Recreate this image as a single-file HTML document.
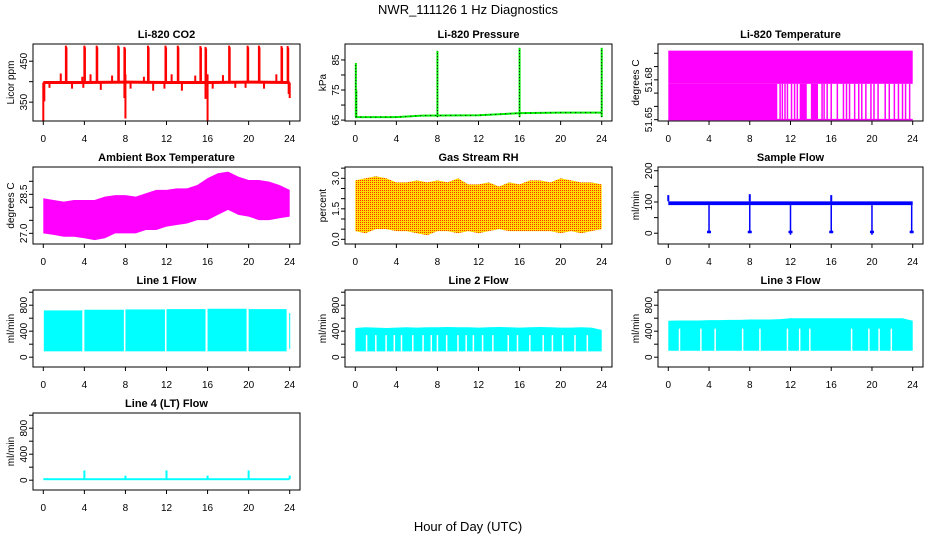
<!DOCTYPE html>
<html><head><meta charset="utf-8"><style>
html,body{margin:0;padding:0;background:#fff;}
svg{display:block;font-family:"Liberation Sans",Arial,sans-serif;}
</style></head><body>
<svg id="chart" width="936" height="540" viewBox="0 0 936 540">
<defs>
<pattern id="rhpat" width="2" height="2" patternUnits="userSpaceOnUse">
<rect width="2" height="2" fill="#ffdd00"/><rect width="1" height="1" fill="#ff3000"/>
</pattern>
</defs>
<text x="468" y="14" text-anchor="middle" font-size="13">NWR_111126  1 Hz Diagnostics</text>
<text x="468" y="531" text-anchor="middle" font-size="13">Hour of Day (UTC)</text>
</svg>
<script>
// ---- data ----
const xTicks=[0,4,8,12,16,20,24];
const co2Base=[398,398,399,398,398,399,398];
const co2BaseHours=[0,4,8,12,16,20,24];
const co2UpHours=[2.2,4.0,5.2,7.3,7.9,10.2,11.9,13.1,15.3,15.8,18.1,19.9,21.0,23.2,23.8];
const co2UpVals=[488,488,488,488,485,488,488,488,487,485,488,488,488,487,487];
const co2SmallHours=[1.7,3.8,4.6,6.7,8.0,9.8,12.5,14.8,16.0,17.5,22.7];
const co2SmallVals=[420,412,418,415,418,412,418,415,418,416,418];
const co2DownHours=[0.0,0.1,0.6,2.8,3.9,5.6,7.9,8.0,8.5,10.7,11.8,13.5,15.8,16.0,16.5,18.7,19.7,21.5,23.9,24.0];
const co2DownVals=[305,352,385,383,385,380,360,310,383,378,383,378,358,305,383,385,385,383,370,360];

const presBaseHours=[0,4,6.5,12,16,20,24];
const presBaseVals=[66,66,66.5,66.6,67.3,67.5,67.5];
const presSpikeHours=[0.05,0.1,8.0,16.0,24.0];
const presSpikeVals=[84,75,88,89,89];

const tempLevels=[51.65,51.677,51.702];
const tempSolidStart=[0,12.9,14.0];
const tempSolidEnd=[10.7,13.6,14.7];
const tempLines=[10.98,11.2,11.46,11.7,12.1,12.4,12.67,15.1,15.3,15.6,16.0,16.6,17.2,17.5,17.8,18.3,18.7,19.0,19.4,19.9,20.2,20.6,21.3,21.7,22.2,22.6,23.0,23.3,23.7];

const hourly=[0,1,2,3,4,5,6,7,8,9,10,11,12,13,14,15,16,17,18,19,20,21,22,23,24];
const ambMax=[28.35,28.28,28.22,28.28,28.28,28.28,28.41,28.47,28.47,28.41,28.54,28.67,28.67,28.73,28.73,28.86,29.12,29.31,29.37,29.18,29.05,29.05,28.99,28.86,28.67];
const ambMin=[27.0,26.94,26.87,26.87,26.81,26.74,26.81,27.0,27.0,27.0,27.13,27.13,27.26,27.32,27.38,27.51,27.51,27.71,27.9,27.71,27.64,27.51,27.51,27.58,27.64];

const rhMax=[2.9,3.0,3.1,3.0,2.8,2.8,2.9,2.8,2.9,2.8,3.0,2.7,2.7,2.8,2.6,2.8,2.7,2.9,2.9,2.8,3.0,2.9,2.8,2.8,2.7];
const rhMin=[0.4,0.3,0.5,0.5,0.4,0.4,0.3,0.2,0.4,0.4,0.3,0.4,0.3,0.4,0.5,0.4,0.4,0.4,0.4,0.4,0.3,0.4,0.3,0.4,0.5];

const sfBaseLow=90, sfBaseHigh=102;
const sfDownHours=[4,8,12,16,20,23.9];
const sfDownVals=[0,0,-5,0,-5,0];
const sfUpHours=[0,8,16];
const sfUpVals=[122,125,122];

const l1Start=[0.05,4.0,8.0,12.0,16.0,20.0,23.95];
const l1End=[3.8,7.85,11.85,15.8,19.8,23.7,24.05];
const l1Low=[90,90,90,90,90,90,130];
const l1High=[720,730,735,740,745,740,680];

const l2High=[450,460,455,450,455,460,455,460,460,465,460,460,455,460,465,460,455,460,465,460,455,455,460,455,420];
const l2Low=90;
const l2Gaps=[1.1,2.0,3.0,3.8,4.5,5.6,6.6,7.4,8.0,8.9,10.0,10.8,11.5,12.4,13.4,14.9,15.8,17.0,18.3,19.2,20.2,21.4,22.6];

const l3High=[560,565,565,565,570,570,575,575,580,580,580,585,600,600,600,600,600,600,600,600,600,600,600,600,560];
const l3Low=100;
const l3Gaps=[1.1,3.2,4.6,7.3,9.0,11.7,12.9,13.9,18.0,19.7,20.7,21.9];

const l4Base=15;
const l4SpikeHours=[4,8,12,16,20,24];
const l4SpikeVals=[150,70,150,70,150,70];

// ---- helpers ----
const NS='http://www.w3.org/2000/svg';
const svg=document.getElementById('chart');
function el(tag,attrs,parent){const e=document.createElementNS(NS,tag);for(const k in attrs)e.setAttribute(k,attrs[k]);(parent||svg).appendChild(e);return e;}
const colL=[33,345,658];
let clipId=0;
function panel(col,row,title,ylab,ymin,ymax,ticks,labels,name){
  const L=colL[col],R=L+(col==2?265:267),T=44+123*row,B=T+77;
  const g=el('g',{});
  
  
  const sx=h=>L+10.3+h*(R-L-20.6)/24;
  const sy=v=>B-(v-ymin)/(ymax-ymin)*77;
  const cid='clip'+(clipId++);
  const cp=el('clipPath',{id:cid},g);el('rect',{x:L,y:T,width:R-L,height:B-T},cp);
  const data=el('g',{'clip-path':'url(#'+cid+')'},g);
  
  
  const t=el('text',{x:(L+R)/2,y:T-6,'text-anchor':'middle','font-size':11,'font-weight':'bold'},g);
  t.textContent=title;
  
  
  xTicks.forEach(h=>{
    el('line',{x1:sx(h),x2:sx(h),y1:B,y2:B+4,stroke:'#000'},g);
    const tx=el('text',{x:sx(h),y:B+21,'text-anchor':'middle','font-size':10},g);
    tx.textContent=h;
    
    
  });
  ticks.forEach((v,i)=>{
    el('line',{x1:L-4,x2:L,y1:sy(v),y2:sy(v),stroke:'#000'},g);
    if(labels[i]){
      const ty=el('text',{x:L-6,y:sy(v),'text-anchor':'middle','font-size':10,transform:'rotate(-90 '+(L-6)+' '+sy(v)+')'},g);
      ty.textContent=labels[i];
      
      
    }
  });
  const yl=el('text',{x:L-19,y:(T+B)/2,'text-anchor':'middle','font-size':10,transform:'rotate(-90 '+(L-19)+' '+((T+B)/2)+')'},g);
  yl.textContent=ylab;
  
  
  const box=el('rect',{x:L,y:T,width:R-L,height:B-T,fill:'none',stroke:'#000','stroke-width':1},g);
  
  
  return {sx,sy,g:data};
}
function vline(p,h,v1,v2,color,w){return el('line',{x1:p.sx(h),x2:p.sx(h),y1:p.sy(v1),y2:p.sy(v2),stroke:color,'stroke-width':w||1.5},p.g);}

// CO2
let p=panel(0,0,'Li-820 CO2','Licor ppm',304,492,[350,400,450],['350','','450'],'co2');
el('polyline',{points:co2BaseHours.map((h,i)=>p.sx(h)+','+p.sy(co2Base[i])).join(' '),fill:'none',stroke:'#ff0000','stroke-width':3},p.g);
co2UpHours.forEach((h,i)=>{vline(p,h,co2Base[0],co2UpVals[i],'#ff0000',2);vline(p,h+0.08,co2Base[0],co2UpVals[i]-4,'#ff0000',1.5);});
co2SmallHours.forEach((h,i)=>vline(p,h,co2Base[0],co2SmallVals[i],'#ff0000',2));
co2DownHours.forEach((h,i)=>vline(p,h,co2Base[0],co2DownVals[i],'#ff0000',2));

// Pressure
p=panel(1,0,'Li-820 Pressure','kPa',64.7,90.3,[65,70,75,80,85],['65','','75','','85'],'pressure');
el('polyline',{points:presBaseHours.map((h,i)=>p.sx(h)+','+p.sy(presBaseVals[i])).join(' '),fill:'none',stroke:'#00ee00','stroke-width':2},p.g);
el('polyline',{points:presBaseHours.map((h,i)=>p.sx(h)+','+p.sy(presBaseVals[i])).join(' '),fill:'none',stroke:'#000','stroke-width':1,'stroke-dasharray':'1 4'},p.g);
presSpikeHours.forEach((h,i)=>{vline(p,h,presBaseVals[0],presSpikeVals[i],'#00ee00',2);el('line',{x1:p.sx(h),x2:p.sx(h),y1:p.sy(66),y2:p.sy(presSpikeVals[i]),stroke:'#000','stroke-width':1,'stroke-dasharray':'1 2'},p.g);});

// Li-820 temperature
p=panel(2,0,'Li-820 Temperature','degrees C',51.649,51.707,[51.65,51.66,51.67,51.68,51.69,51.70],['51.65','','','51.68','',''],'li820-temp');
el('rect',{x:p.sx(0),y:p.sy(tempLevels[2]),width:p.sx(24)-p.sx(0),height:p.sy(tempLevels[1])-p.sy(tempLevels[2]),fill:'#ff00ff'},p.g);
tempSolidStart.forEach((s,i)=>el('rect',{x:p.sx(s),y:p.sy(tempLevels[1]),width:p.sx(tempSolidEnd[i])-p.sx(s),height:p.sy(tempLevels[0])-p.sy(tempLevels[1]),fill:'#ff00ff'},p.g));
tempLines.forEach(h=>vline(p,h,tempLevels[0],tempLevels[1],'#ff00ff',1.5));
el('line',{x1:p.sx(0),x2:p.sx(24),y1:p.sy(tempLevels[0]),y2:p.sy(tempLevels[0]),stroke:'#ff00ff','stroke-width':1.5},p.g);

// Ambient
p=panel(0,1,'Ambient Box Temperature','degrees C',26.59,29.55,[27.0,27.5,28.0,28.5,29.0],['27.0','','','28.5',''],'ambient-temp');
el('polygon',{points:hourly.map((h,i)=>p.sx(h)+','+p.sy(ambMax[i])).concat(hourly.slice().reverse().map(h=>p.sx(h)+','+p.sy(ambMin[h]))).join(' '),fill:'#ff00ff'},p.g);

// RH
p=panel(1,1,'Gas Stream RH','percent',-0.23,3.556,[0,0.5,1,1.5,2,2.5,3,3.5],['0.0','','','1.5','','','3.0',''],'gas-rh');
el('polygon',{points:hourly.map((h,i)=>p.sx(h)+','+p.sy(rhMax[i])).concat(hourly.slice().reverse().map(h=>p.sx(h)+','+p.sy(rhMin[h]))).join(' '),fill:'url(#rhpat)'},p.g);

// Sample flow
p=panel(2,1,'Sample Flow','ml/min',-34.5,212,[0,50,100,150,200],['0','','100','','200'],'sample-flow');
el('rect',{x:p.sx(0),y:p.sy(sfBaseHigh),width:p.sx(24)-p.sx(0),height:p.sy(sfBaseLow)-p.sy(sfBaseHigh),fill:'#0000ff'},p.g);
sfDownHours.forEach((h,i)=>{vline(p,h,sfBaseLow,sfDownVals[i],'#0000ff',1.5);el('rect',{x:p.sx(h)-2,y:p.sy(8),width:4,height:p.sy(0)-p.sy(8),fill:'#0000ff'},p.g);});
sfUpHours.forEach((h,i)=>vline(p,h,sfBaseHigh,sfUpVals[i],'#0000ff',2));

// Line 1
p=panel(0,2,'Line 1 Flow','ml/min',-151,1034,[0,200,400,600,800,1000],['0','','400','','800',''],'line1-flow');
l1Start.forEach((s,i)=>el('rect',{x:p.sx(s),y:p.sy(l1High[i]),width:p.sx(l1End[i])-p.sx(s),height:p.sy(l1Low[i])-p.sy(l1High[i]),fill:'#00ffff'},p.g));

// Line 2
p=panel(1,2,'Line 2 Flow','ml/min',-151,1034,[0,200,400,600,800,1000],['0','','400','','800',''],'line2-flow');
el('polygon',{points:[p.sx(0)+','+p.sy(l2Low)].concat(hourly.map((h,i)=>p.sx(h)+','+p.sy(l2High[i]))).concat([p.sx(24)+','+p.sy(l2Low)]).join(' '),fill:'#00ffff'},p.g);
l2Gaps.forEach(h=>vline(p,h,l2Low-5,340,'#ffffff',1.5));

// Line 3
p=panel(2,2,'Line 3 Flow','ml/min',-151,1034,[0,200,400,600,800,1000],['0','','400','','800',''],'line3-flow');
el('polygon',{points:[p.sx(0)+','+p.sy(l3Low)].concat(hourly.map((h,i)=>p.sx(h)+','+p.sy(l3High[i]))).concat([p.sx(24)+','+p.sy(l3Low)]).join(' '),fill:'#00ffff'},p.g);
l3Gaps.forEach(h=>vline(p,h,l3Low-5,440,'#ffffff',1.5));

// Line 4
p=panel(0,3,'Line 4 (LT) Flow','ml/min',-151,1034,[0,200,400,600,800,1000],['0','','400','','800',''],'line4-flow');
el('rect',{x:p.sx(0),y:p.sy(l4Base+15),width:p.sx(24)-p.sx(0),height:p.sy(l4Base-15)-p.sy(l4Base+15),fill:'#00ffff'},p.g);
l4SpikeHours.forEach((h,i)=>vline(p,h,l4Base,l4SpikeVals[i],'#00ffff',2));
</script>
</body></html>
